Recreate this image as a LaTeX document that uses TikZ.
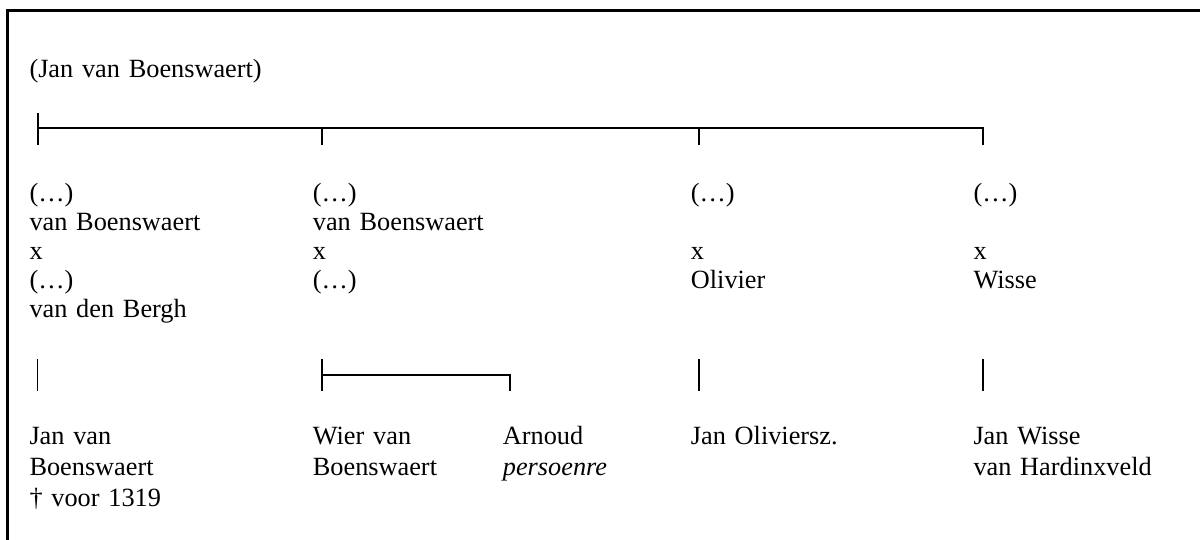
\documentclass[tikz,border=0pt]{standalone}
\usepackage{fontspec}
\setmainfont{Liberation Serif}
\begin{document}
\begin{tikzpicture}[x=1pt,y=-1pt,
  up/.style={anchor=base west,inner sep=0pt,text width=250pt,align=left,font=\fontsize{26.3}{28.8}\selectfont},
  low/.style={anchor=base west,inner sep=0pt,text width=250pt,align=left,font=\fontsize{26.3}{31}\selectfont},
  br/.style={line width=1.9pt},
  frame/.style={line width=3pt}]
\useasboundingbox (0,0) rectangle (1200,540);
\fill[white] (0,0) rectangle (1200,540);
\draw[frame] (7.7,545) -- (7.7,10.6) -- (1205,10.6);
% root
\node[up] (root) at (29.3,78) {(Jan van Boenswaert)};
% top bracket
\coordinate (t0) at (38,113);
\coordinate (h0) at (38,128);
\coordinate (h1) at (321.7,128);
\coordinate (h2) at (699,128);
\coordinate (h3) at (982.7,128);
\coordinate (e0) at (38,145);
\coordinate (e1) at (321.7,145);
\coordinate (e2) at (699,145);
\coordinate (e3) at (982.7,145);
\draw[br] (t0) -- (e0);
\draw[br] (h0) -- (h3) -- (e3);
\draw[br] (h1) -- (e1);
\draw[br] (h2) -- (e2);
% generation 2
\node[up] (c1) at (29.3,202) {(…)\\van Boenswaert\\x\\(…)\\van den Bergh};
\node[up] (c2) at (312.7,202) {(…)\\van Boenswaert\\x\\(…)};
\node[up] (c3) at (690.7,202) {(…)\\\mbox{}\\x\\Olivier};
\node[up] (c4) at (973.3,202) {(…)\\\mbox{}\\x\\Wisse};
% descent ticks
\coordinate (d1a) at (37.5,359);
\coordinate (d1b) at (37.5,391);
\draw[br] (d1a) -- (d1b);
\coordinate (d2a) at (321.7,359);
\coordinate (d2h) at (321.7,375);
\coordinate (d2b) at (321.7,391);
\coordinate (d2r) at (510,375);
\coordinate (d2e) at (510,391);
\draw[br] (d2a) -- (d2b);
\draw[br] (d2h) -- (d2r) -- (d2e);
\coordinate (d3a) at (699,359);
\coordinate (d3b) at (699,391);
\draw[br] (d3a) -- (d3b);
\coordinate (d4a) at (982.7,359);
\coordinate (d4b) at (982.7,391);
\draw[br] (d4a) -- (d4b);
% generation 3
\node[low] (g1) at (29.3,444) {Jan van\\Boenswaert\\† voor 1319};
\node[low] (g2) at (312.7,444) {Wier van\\Boenswaert};
\node[low] (g3) at (502.7,444) {Arnoud\\\textit{persoenre}};
\node[low] (g4) at (690.7,444) {Jan Oliviersz.};
\node[low] (g5) at (973.3,444) {Jan Wisse\\van Hardinxveld};
\end{tikzpicture}
\end{document}
